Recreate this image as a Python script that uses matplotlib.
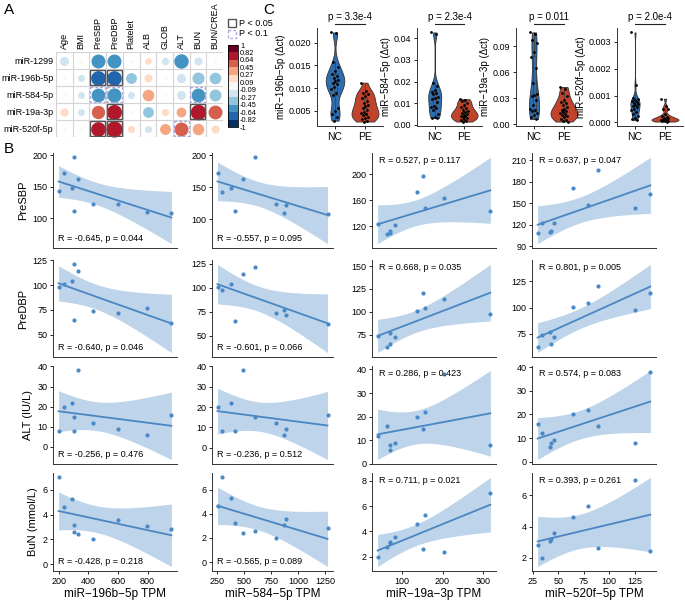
import numpy as np
import matplotlib
matplotlib.use("Agg")
import matplotlib.pyplot as plt
from matplotlib.colors import ListedColormap, BoundaryNorm
from matplotlib.cm import ScalarMappable
from matplotlib.patches import Rectangle
from matplotlib.ticker import FormatStrFormatter

plt.rcParams['font.family'] = ['Liberation Sans', 'DejaVu Sans']

# ---------------- panel A data ----------------
mirnas = ['miR-1299', 'miR-196b-5p', 'miR-584-5p', 'miR-19a-3p', 'miR-520f-5p']
clinical = ['Age', 'BMI', 'PreSBP', 'PreDBP', 'Platelet', 'ALB', 'GLOB', 'ALT', 'BUN', 'BUN/CREA']
corr = [
    [-0.24, -0.05, -0.58, -0.58, -0.04, 0.13, -0.16, -0.62, -0.20, -0.03],
    [-0.03, -0.15, -0.645, -0.640, -0.35, 0.20, -0.03, -0.256, -0.428, -0.40],
    [-0.03, -0.15, -0.557, -0.601, -0.15, 0.40, -0.03, -0.236, -0.565, -0.42],
    [0.20, -0.15, 0.527, 0.668, -0.03, -0.35, 0.15, 0.286, 0.711, 0.57],
    [-0.03, -0.05, 0.637, 0.801, 0.15, -0.15, 0.35, 0.574, 0.393, 0.20],
]
pmat = [
    [0.60, 0.90, 0.12, 0.12, 0.90, 0.70, 0.70, 0.11, 0.60, 0.90],
    [0.90, 0.70, 0.044, 0.046, 0.30, 0.60, 0.90, 0.476, 0.218, 0.30],
    [0.90, 0.70, 0.095, 0.066, 0.70, 0.25, 0.90, 0.512, 0.089, 0.28],
    [0.60, 0.70, 0.117, 0.035, 0.90, 0.30, 0.70, 0.423, 0.021, 0.11],
    [0.90, 0.90, 0.047, 0.005, 0.70, 0.70, 0.30, 0.083, 0.261, 0.60],
]
rdbu11 = ['#053061', '#2166ac', '#4393c3', '#92c5de', '#d1e5f0', '#f7f7f7',
          '#fddbc7', '#f4a582', '#d6604d', '#b2182b', '#67001f']

# ---------------- panel C data (delta ct) ----------------
violin_names = ['miR\u2212196b\u22125p (\u0394ct)', 'miR\u2212584\u22125p (\u0394ct)',
                'miR\u221219a\u22123p (\u0394ct)', 'miR\u2212520f\u22125p (\u0394ct)']
violin_p = ['p = 3.3e-4', 'p = 2.3e-4', 'p = 0.011', 'p = 2.0e-4']
nc196 = [0.0223, 0.0221, 0.0157, 0.0146, 0.0138, 0.0131, 0.0127, 0.0122, 0.0118, 0.0115, 0.0112,
         0.0108, 0.0103, 0.0098, 0.0090, 0.0085, 0.0056, 0.0050, 0.0043, 0.0035, 0.0028]
pe196 = [0.0112, 0.0093, 0.0090, 0.0087, 0.0082, 0.0078, 0.0072, 0.0068, 0.0063, 0.0060, 0.0056,
         0.0052, 0.0048, 0.0045, 0.0042, 0.0040, 0.0037, 0.0034, 0.0031, 0.0028, 0.0026]
nc584 = [0.0428, 0.0423, 0.0195, 0.0180, 0.0160, 0.0152, 0.0145, 0.0140, 0.0130, 0.0122, 0.0118,
         0.0105, 0.0085, 0.0080, 0.0078, 0.0068, 0.0050, 0.0035, 0.0032, 0.0030]
pe584 = [0.0118, 0.0115, 0.0108, 0.0098, 0.0090, 0.0082, 0.0075, 0.0068, 0.0062, 0.0058, 0.0054,
         0.0050, 0.0046, 0.0042, 0.0038, 0.0034, 0.0030, 0.0026, 0.0022, 0.0018, 0.0014]
nc19a = [0.106, 0.104, 0.097, 0.094, 0.083, 0.078, 0.065, 0.047, 0.035, 0.034, 0.032, 0.028,
         0.022, 0.018, 0.016, 0.015, 0.013, 0.010, 0.008, 0.006]
pe19a = [0.043, 0.041, 0.036, 0.032, 0.028, 0.026, 0.024, 0.022, 0.020, 0.018, 0.016, 0.015,
         0.014, 0.013, 0.012, 0.011, 0.009, 0.008, 0.006, 0.005, 0.004, 0.003]
nc520 = [0.00335, 0.00140, 0.00090, 0.00088, 0.00085, 0.00080, 0.00076, 0.00072, 0.00068, 0.00064,
         0.00060, 0.00056, 0.00050, 0.00045, 0.00040, 0.00032, 0.00025, 0.00018, 0.00012, 0.00009]
pe520 = [0.00088, 0.00062, 0.00050, 0.00048, 0.00030, 0.00025, 0.00021, 0.00018, 0.00016, 0.00014,
         0.00012, 0.00011, 0.00010, 0.00009, 0.00008, 0.00007, 0.00006, 0.00005, 0.00004, 0.00003]
violin_data = [(nc196, pe196), (nc584, pe584), (nc19a, pe19a), (nc520, pe520)]
violin_ticks = [[0.005, 0.010, 0.015, 0.020], [0.00, 0.01, 0.02, 0.03, 0.04],
                [0.00, 0.03, 0.06, 0.09], [0.000, 0.001, 0.002, 0.003]]
violin_fmt = ['%.3f', '%.2f', '%.2f', '%.3f']

# ---------------- panel B data (10 samples) ----------------
x196 = [200, 238, 292, 305, 305, 328, 431, 600, 797, 961]
x584 = [292, 253, 380, 602, 416, 488, 792, 891, 873, 1274]
x19a = [318, 138, 158, 153, 70, 204, 40, 83, 71, 62]
x520f = [125.7, 64.4, 79.4, 89.5, 42.9, 140.6, 33.5, 45.8, 41.6, 29.6]
sbp = [143, 172, 148, 197, 112, 163, 123, 122, 110, 108]
dbp = [98, 101, 104, 121, 65, 114, 74, 72, 77, 62]
alt = [8, 20, 22, 15, 8, 38, 12, 9, 6, 16]
bun = [7.0, 4.6, 5.3, 2.6, 3.2, 2.4, 2.0, 3.6, 3.1, 2.8]
x_labels = ['miR\u2212196b\u22125p TPM', 'miR\u2212584\u22125p TPM', 'miR\u221219a\u22123p TPM', 'miR\u2212520f\u22125p TPM']
y_labels = ['PreSBP', 'PreDBP', 'ALT (IU/L)', 'BuN (mmol/L)']
r_vals = [[-0.645, -0.557, 0.527, 0.637],
          [-0.640, -0.601, 0.668, 0.801],
          [-0.256, -0.236, 0.286, 0.574],
          [-0.428, -0.565, 0.711, 0.393]]
p_vals = [[0.044, 0.095, 0.117, 0.047],
          [0.046, 0.066, 0.035, 0.005],
          [0.476, 0.512, 0.423, 0.083],
          [0.218, 0.089, 0.021, 0.261]]
x_ticks = [[200, 400, 600, 800], [250, 500, 750, 1000, 1250], [100, 200, 300], [25, 50, 75, 100, 125]]
y_ticks = [[[100, 150, 200], [100, 150, 200], [120, 160, 200], [90, 120, 150, 180, 210]],
           [[50, 75, 100, 125], [50, 75, 100, 125], [75, 100, 125, 150], [75, 100, 125]],
           [[0, 10, 20, 30, 40]] * 4,
           [[0, 2, 4, 6], [0, 2, 4, 6], [2, 4, 6, 8], [2, 4, 6]]]

W, H = 685, 602
fig = plt.figure(figsize=(W / 100, H / 100), dpi=100)


def box(x0, y0, x1, y1):
    return [x0 / W, 1 - y1 / H, (x1 - x0) / W, (y1 - y0) / H]


# ================= A: correlation dot matrix =================
axA = fig.add_axes(box(56, 52, 223, 137))
bounds = np.linspace(-1, 1, 12)
cmap_bins = ListedColormap(rdbu11)
norm_bins = BoundaryNorm(bounds, 11)
cell_pt = 16.7 * 0.72
for i in range(len(mirnas)):
    for j in range(len(clinical)):
        r = corr[i][j]
        diam = min(1.1 * np.sqrt(abs(r)), 0.97) * cell_pt
        axA.scatter(j, i, s=diam ** 2, color=cmap_bins(norm_bins(r)), linewidths=0, zorder=3)
        if pmat[i][j] < 0.05:
            axA.add_patch(Rectangle((j - 0.45, i - 0.45), 0.9, 0.9, fill=False, ec='#555555', lw=1.0, zorder=4))
        elif pmat[i][j] < 0.1:
            axA.add_patch(Rectangle((j - 0.45, i - 0.45), 0.9, 0.9, fill=False, ec='#a9a6e0', lw=1.0,
                                    ls=(0, (2, 1.5)), zorder=4))
for k in range(len(clinical) + 1):
    axA.axvline(k - 0.5, color='#d4d4d4', lw=0.8, zorder=1)
for k in range(len(mirnas) + 1):
    axA.axhline(k - 0.5, color='#d4d4d4', lw=0.8, zorder=1)
axA.set_xlim(-0.5, len(clinical) - 0.5)
axA.set_ylim(len(mirnas) - 0.5, -0.5)
axA.set_xticks(range(len(clinical)))
axA.set_xticklabels(clinical, rotation=90, fontsize=6.5)
axA.set_yticks(range(len(mirnas)))
axA.set_yticklabels(mirnas, fontsize=6.5)
axA.tick_params(length=0, top=True, labeltop=True, bottom=False, labelbottom=False, pad=2)
for s in axA.spines.values():
    s.set_visible(False)

cax = fig.add_axes(box(228, 45, 238, 127))
cb = fig.colorbar(ScalarMappable(norm=norm_bins, cmap=cmap_bins), cax=cax, ticks=bounds)
cb.ax.set_yticklabels([f"{v:.2f}".rstrip('0').rstrip('.') for v in bounds])
cb.ax.tick_params(length=0, labelsize=5.3, pad=1.5)
cb.outline.set_linewidth(0.6)

axL = fig.add_axes(box(226, 16, 290, 40))
axL.set_xlim(226, 290)
axL.set_ylim(40, 16)
axL.axis('off')
axL.add_patch(Rectangle((228, 19), 8, 8, fill=False, ec='#555555', lw=1.0))
axL.add_patch(Rectangle((228, 30), 8, 8, fill=False, ec='#a9a6e0', lw=1.0, ls=(0, (2, 1.5))))
axL.text(239, 23, 'P < 0.05', fontsize=6.5, va='center')
axL.text(239, 34, 'P < 0.1', fontsize=6.5, va='center')


# ================= C: violins =================
def kde(vals, grid):
    v = np.asarray(vals)
    n = len(v)
    iqr = np.subtract(*np.percentile(v, [75, 25]))
    bw = 0.9 * min(v.std(ddof=1), iqr / 1.34) * n ** -0.2
    return np.exp(-0.5 * ((grid[:, None] - v[None, :]) / bw) ** 2).sum(1) / (n * bw * np.sqrt(2 * np.pi))


vx = [(317, 383), (417, 482), (516, 582), (617, 683)]
vcolors = ['#2f6db1', '#c1432b']
for k, (nc, pe) in enumerate(violin_data):
    ax = fig.add_axes(box(vx[k][0], 28, vx[k][1], 126))
    grids = [np.linspace(min(g), max(g), 200) for g in (nc, pe)]
    dens = [kde(g, gr) for g, gr in zip((nc, pe), grids)]
    scale = 0.45 / max(d.max() for d in dens)
    for pos, (g, gr, d) in enumerate(zip((nc, pe), grids, dens), start=1):
        ax.fill_betweenx(gr, pos - d * scale, pos + d * scale, facecolor=vcolors[pos - 1],
                         edgecolor='#333333', lw=0.6, zorder=1)
        n = len(g)
        jit = ((np.arange(n) * 0.618) % 1 - 0.5) * 0.26
        ax.scatter(pos + jit, g, s=4, color='black', lw=0, zorder=4)
    ax.boxplot([nc, pe], positions=[1, 2], widths=0.1, showfliers=False, patch_artist=True,
               manage_ticks=False,
               boxprops=dict(facecolor='none', edgecolor='#444444', lw=0.6),
               whiskerprops=dict(color='#444444', lw=0.6), capprops=dict(lw=0),
               medianprops=dict(color='#444444', lw=0.8), zorder=3)
    ax.set_xlim(0.4, 2.6)
    ax.margins(y=0.05)
    lims = ax.get_ylim()
    ax.set_yticks(violin_ticks[k])
    ax.set_ylim(lims)
    ax.yaxis.set_major_formatter(FormatStrFormatter(violin_fmt[k]))
    ax.set_xticks([1, 2])
    ax.set_xticklabels(['NC', 'PE'])
    ax.tick_params(labelsize=6.5, length=2.5, width=0.6, pad=1.5)
    ax.tick_params(axis='x', labelsize=7.5)
    ax.set_ylabel(violin_names[k], fontsize=7, labelpad=2)
    for s in ['top', 'right']:
        ax.spines[s].set_visible(False)
    for s in ['left', 'bottom']:
        ax.spines[s].set_linewidth(0.7)
        ax.spines[s].set_color('#333333')
    ax.plot([1, 2], [1.04, 1.04], transform=ax.get_xaxis_transform(), color='#222222', lw=0.8, clip_on=False)
    ax.text(1.5, 1.115, violin_p[k], transform=ax.get_xaxis_transform(), ha='center', va='center',
            fontsize=7)

# ================= B: scatter + lm fits =================
xs = [x196, x584, x19a, x520f]
ys = [sbp, dbp, alt, bun]
colx = [(53, 177), (212, 333), (372, 496), (532, 656)]
rowy = [(153, 248), (260, 357), (366, 464), (473, 571)]
t_crit = 2.306  # t(0.975, df = 8)
for r in range(4):
    for c in range(4):
        ax = fig.add_axes(box(colx[c][0], rowy[r][0], colx[c][1], rowy[r][1]))
        x = np.array(xs[c], dtype=float)
        y = np.array(ys[r], dtype=float)
        n = len(x)
        b, a = np.polyfit(x, y, 1)
        xg = np.linspace(x.min(), x.max(), 80)
        yfit = a + b * xg
        s_res = np.sqrt(((y - (a + b * x)) ** 2).sum() / (n - 2))
        se = s_res * np.sqrt(1 / n + (xg - x.mean()) ** 2 / ((x - x.mean()) ** 2).sum())
        ax.fill_between(xg, yfit - t_crit * se, yfit + t_crit * se, color='#bdd4ea', lw=0, zorder=1)
        ax.plot(xg, yfit, color='#4a86c2', lw=1.3, zorder=2)
        ax.scatter(x, y, s=9, color='#4a89c8', lw=0, zorder=3)
        ax.margins(0.05)
        ylim = ax.get_ylim()
        xlim = ax.get_xlim()
        ax.set_yticks(y_ticks[r][c])
        ax.set_xticks(x_ticks[c])
        ax.set_ylim(ylim)
        ax.set_xlim(xlim)
        for s in ['top', 'right']:
            ax.spines[s].set_visible(False)
        for s in ['left', 'bottom']:
            ax.spines[s].set_linewidth(0.7)
            ax.spines[s].set_color('#333333')
        ax.tick_params(labelsize=6.5, length=2.5, width=0.6, pad=1.5)
        if r < 3:
            ax.tick_params(axis='x', length=0, labelbottom=False)
        else:
            ax.set_xlabel(x_labels[c], fontsize=8.5, labelpad=2)
        if c == 0:
            ax.set_ylabel(y_labels[r], fontsize=8, labelpad=3)
        label = f"R = {r_vals[r][c]:.3f}, p = {p_vals[r][c]:.3f}"
        if c < 2:
            ax.text(0.04, 0.1, label, transform=ax.transAxes, fontsize=6.5, va='center')
        else:
            ax.text(0.06, 0.92, label, transform=ax.transAxes, fontsize=6.5, va='center')

fig.text(4 / W, 1 - 3 / H, 'A', fontsize=11, va='top')
fig.text(4 / W, 1 - 142 / H, 'B', fontsize=11, va='top')
fig.text(263 / W, 1 - 3 / H, 'C', fontsize=11, va='top')

fig.savefig('out.png', dpi=100)
